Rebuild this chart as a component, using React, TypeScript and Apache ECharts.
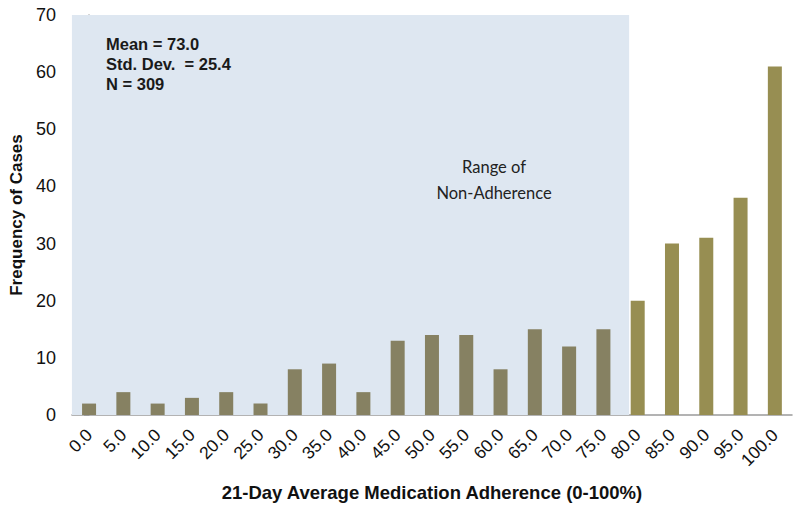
import React, { useEffect, useRef } from "react";
import * as echarts from "echarts";

const categories = ["0.0","5.0","10.0","15.0","20.0","25.0","30.0","35.0","40.0","45.0","50.0","55.0","60.0","65.0","70.0","75.0","80.0","85.0","90.0","95.0","100.0"];
const frequencies = [2,4,2,3,4,2,8,9,4,13,14,14,8,15,12,15,20,30,31,38,61];
const yTicks = [0,10,20,30,40,50,60,70];
const statsLines = ["Mean = 73.0", "Std. Dev.  = 25.4", "N = 309"];
const rangeLabel = ["Range of", "Non-Adherence"];
// shaded range in category-index units (covers 0.0 .. 75.0 bins)
const shadeStart = -0.5;
const shadeEnd = 15.75;

export default function App() {
  const ref = useRef<HTMLDivElement>(null);
  useEffect(() => {
    if (!ref.current) return;
    const chart = echarts.init(ref.current, null, { renderer: "svg" });
    const font = "Liberation Sans";
    chart.setOption({
      animation: false,
      backgroundColor: "#ffffff",
      grid: { left: 66, right: 8, top: 15, bottom: 94, containLabel: false },
      xAxis: [
        {
          type: "category",
          data: categories,
          axisLine: { lineStyle: { color: "#9a9a9a", width: 1.5 } },
          axisTick: { show: false },
          axisLabel: { rotate: 45, fontSize: 17.5, color: "#111", fontFamily: font, margin: 17, interval: 0 },
          name: "21-Day Average Medication Adherence (0-100%)",
          nameLocation: "middle",
          nameGap: 68,
          nameTextStyle: { fontSize: 18.5, fontWeight: "bold", color: "#111", fontFamily: font },
        },
        {
          type: "value",
          min: -0.5,
          max: 20.5,
          show: false,
        },
      ],
      yAxis: {
        type: "value",
        min: 0,
        max: 70,
        interval: 10,
        axisLine: { show: true, lineStyle: { color: "#9a9a9a", width: 1.5 } },
        axisTick: { show: true, length: 5, lineStyle: { color: "#9a9a9a" } },
        splitLine: { show: false },
        axisLabel: {
          fontSize: 18, color: "#111", fontFamily: font, margin: 16,
          formatter: (v: number) => (yTicks.includes(v) ? String(v) : ""),
        },
        name: "Frequency of Cases",
        nameLocation: "middle",
        nameGap: 40,
        nameTextStyle: { fontSize: 17, fontWeight: "bold", color: "#111", fontFamily: font },
      },
      series: [
        {
          type: "scatter",
          xAxisIndex: 1,
          data: [],
          silent: true,
          z: 1,
          markArea: {
            silent: true,
            label: { show: false },
            itemStyle: { color: "#dee7f1" },
            data: [[{ xAxis: shadeStart, yAxis: 70 }, { xAxis: shadeEnd, yAxis: 0 }]],
          },
        },
        {
          type: "bar",
          data: frequencies,
          barWidth: 14,
          z: 3,
          itemStyle: {
            color: (p: any) => (p.dataIndex < 16 ? "#868162" : "#978e52"),
          },
        },
      ],
      graphic: [
        {
          type: "text",
          x: 106,
          y: 34,
          z: 10,
          style: {
            text: statsLines.join("\n"),
            fontSize: 16.5,
            fontWeight: "bold",
            fontFamily: font,
            lineHeight: 20,
            fill: "#1a1a1a",
          },
        },
        {
          type: "text",
          x: 494,
          y: 154,
          z: 10,
          style: {
            text: rangeLabel.join("\n"),
            fontSize: 16.5,
            fontFamily: "Lato",
            lineHeight: 26,
            fill: "#222",
            align: "center",
          },
        },
      ],
    });
    return () => chart.dispose();
  }, []);
  return <div ref={ref} style={{ width: 800, height: 509, position: "absolute", left: 0, top: 0 }} />;
}
